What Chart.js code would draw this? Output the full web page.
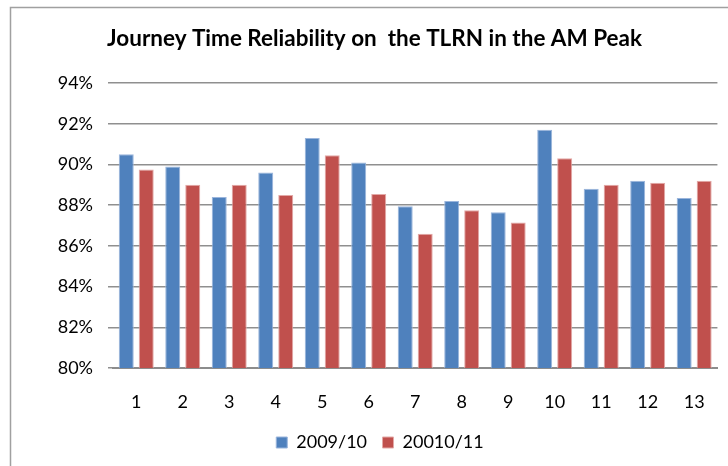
<!DOCTYPE html>
<html>
<head>
<meta charset="utf-8">
<script src="https://cdn.jsdelivr.net/npm/chart.js@4/dist/chart.umd.min.js"></script>
<style>
  html, body { margin: 0; padding: 0; background: #fff; }
  #wrap { position: relative; width: 728px; height: 466px; }
</style>
</head>
<body>
<div id="wrap"><canvas id="c" width="728" height="466"></canvas></div>
<script>
const chartTitle = "Journey Time Reliability on  the TLRN in the AM Peak";
const categories = ["1","2","3","4","5","6","7","8","9","10","11","12","13"];
const seriesNames = ["2009/10", "20010/11"];
const values2009 = [90.5, 89.9, 88.4, 89.6, 91.3, 90.1, 87.95, 88.2, 87.65, 91.7, 88.8, 89.2, 88.35];
const values2010 = [89.75, 89.0, 89.0, 88.5, 90.45, 88.55, 86.6, 87.75, 87.15, 90.3, 89.0, 89.1, 89.2];
const yTicks = [80, 82, 84, 86, 88, 90, 92, 94];

const FONT = "Lato, 'Open Sans', sans-serif";

const framePlugin = {
  id: 'frame',
  beforeDraw(chart) {
    const ctx = chart.ctx;
    ctx.save();
    ctx.fillStyle = '#fff';
    ctx.fillRect(0, 0, chart.width, chart.height);
    ctx.strokeStyle = '#a0a0a0';
    ctx.lineWidth = 1.5;
    ctx.beginPath();
    ctx.moveTo(10.5, chart.height);
    ctx.lineTo(10.5, 7.5);
    ctx.lineTo(chart.width, 7.5);
    ctx.stroke();
    ctx.restore();
  },
  afterDraw(chart) {
    const ctx = chart.ctx;
    ctx.save();
    let size = 20;
    ctx.font = "bold " + size + "px " + FONT;
    const w = ctx.measureText(chartTitle).width;
    size = size * 535 / w;
    ctx.font = "bold " + size.toFixed(2) + "px " + FONT;
    ctx.fillStyle = '#000';
    ctx.textAlign = 'center';
    ctx.textBaseline = 'alphabetic';
    ctx.fillText(chartTitle, 374.5, 46);
    ctx.restore();
  }
};

new Chart(document.getElementById('c'), {
  type: 'bar',
  data: {
    labels: categories,
    datasets: [
      { label: seriesNames[0], data: values2009, backgroundColor: '#4F81BD', borderColor: '#9AB5DC', borderWidth: 1, categoryPercentage: 0.86, barPercentage: 0.75 },
      { label: seriesNames[1], data: values2010, backgroundColor: '#C0504D', borderColor: '#E3A9A7', borderWidth: 1, categoryPercentage: 0.86, barPercentage: 0.75 }
    ]
  },
  options: {
    responsive: false,
    animation: false,
    devicePixelRatio: 1,
    layout: { padding: { left: 42, right: 10, top: 83, bottom: 4.5 } },
    plugins: {
      title: { display: false },
      tooltip: { enabled: false },
      legend: {
        position: 'bottom',
        labels: {
          boxWidth: 11, boxHeight: 11, padding: 15.5,
          color: '#000',
          font: { family: FONT, size: 18 }
        }
      }
    },
    scales: {
      x: {
        grid: { display: false, drawTicks: false },
        border: { display: true, color: '#8c8c8c', width: 2 },
        ticks: { color: '#000', font: { family: FONT, size: 18 }, padding: 23 },
        afterFit(scale) { scale.height = 50; }
      },
      y: {
        min: 80, max: 94,
        afterBuildTicks(scale) { scale.ticks = yTicks.map(v => ({ value: v })); },
        grid: { color: '#8f8f8f', lineWidth: 1.5, tickLength: 5 },
        border: { display: false },
        ticks: { color: '#000', font: { family: FONT, size: 18 }, padding: 15, callback: v => v + '%' },
        afterFit(scale) { scale.width = 71; }
      }
    }
  },
  plugins: [framePlugin]
});
</script>
</body>
</html>
